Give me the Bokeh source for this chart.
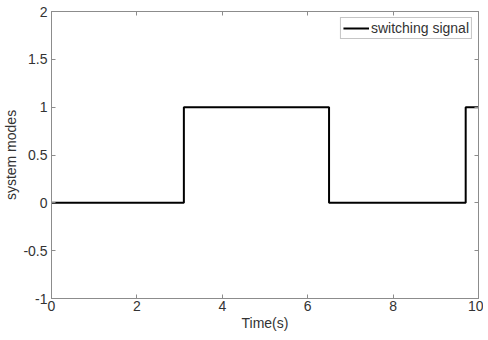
from bokeh.plotting import figure
from bokeh.models import LinearAxis, Range1d, Legend, LegendItem, FixedTicker
from bokeh.embed import file_html
from bokeh.resources import INLINE

# data
switch_times = [0.0, 3.1, 6.5, 9.7, 10.0]
modes = [0, 1, 0, 1, 1]
x_ticks = [0, 2, 4, 6, 8, 10]
y_ticks = [-1, -0.5, 0, 0.5, 1, 1.5, 2]
y_tick_labels = {-1: "-1", -0.5: "-0.5", 0: "0", 0.5: "0.5", 1: "1", 1.5: "1.5", 2: "2"}

FONT = "Liberation Sans"
AXC = "#8c8c8c"
TXT = "#333333"

p = figure(frame_width=427, frame_height=287, output_backend="svg", toolbar_location=None,
           x_range=Range1d(0, 10), y_range=Range1d(-1, 2),
           min_border_left=48, min_border_right=5, min_border_top=11, min_border_bottom=30)
p.grid.visible = False
p.outline_line_color = AXC
p.outline_line_width = 1

r = p.step(switch_times, modes, mode="after", line_color="black", line_width=2)

for ax in p.xaxis + p.yaxis:
    ax.axis_line_color = AXC
    ax.major_tick_line_color = AXC
    ax.major_tick_in = 4
    ax.major_tick_out = 0
    ax.minor_tick_line_color = None
    ax.major_label_text_font = FONT
    ax.major_label_text_font_size = "14px"
    ax.major_label_text_color = TXT
    ax.axis_label_text_font = FONT
    ax.axis_label_text_font_size = "14px"
    ax.axis_label_text_font_style = "normal"
    ax.axis_label_text_color = TXT

p.xaxis.ticker = FixedTicker(ticks=x_ticks)
p.yaxis.ticker = FixedTicker(ticks=y_ticks)
p.yaxis.major_label_overrides = y_tick_labels
p.xaxis.axis_label = "Time(s)"
p.yaxis.axis_label = "system modes"
p.xaxis.major_label_standoff = 2
p.xaxis.axis_label_standoff = 1
p.yaxis.major_label_standoff = 4
p.yaxis.axis_label_standoff = 1

blank_x = {t: "" for t in x_ticks}
blank_y = {t: "" for t in y_ticks}
top = LinearAxis(ticker=FixedTicker(ticks=x_ticks), major_label_overrides=blank_x,
                 major_label_text_font_size="1px", major_label_standoff=0,
                 axis_line_color=AXC, major_tick_line_color=AXC, major_tick_in=4,
                 major_tick_out=0, minor_tick_line_color=None)
right = LinearAxis(ticker=FixedTicker(ticks=y_ticks), major_label_overrides=blank_y,
                   major_label_text_font_size="1px", major_label_standoff=0,
                   axis_line_color=AXC, major_tick_line_color=AXC, major_tick_in=4,
                   major_tick_out=0, minor_tick_line_color=None)
p.add_layout(top, "above")
p.add_layout(right, "right")

legend = Legend(items=[LegendItem(label="switching signal", renderers=[r])],
                location="top_right")
legend.label_text_font = FONT
legend.label_text_font_size = "14px"
legend.label_text_color = TXT
legend.border_line_color = AXC
legend.margin = 6
legend.padding = 2
legend.glyph_width = 26
legend.glyph_height = 16
legend.label_standoff = 2
legend.label_height = 16
legend.spacing = 0
p.add_layout(legend)

open("out.html", "w").write(file_html(p, INLINE))
